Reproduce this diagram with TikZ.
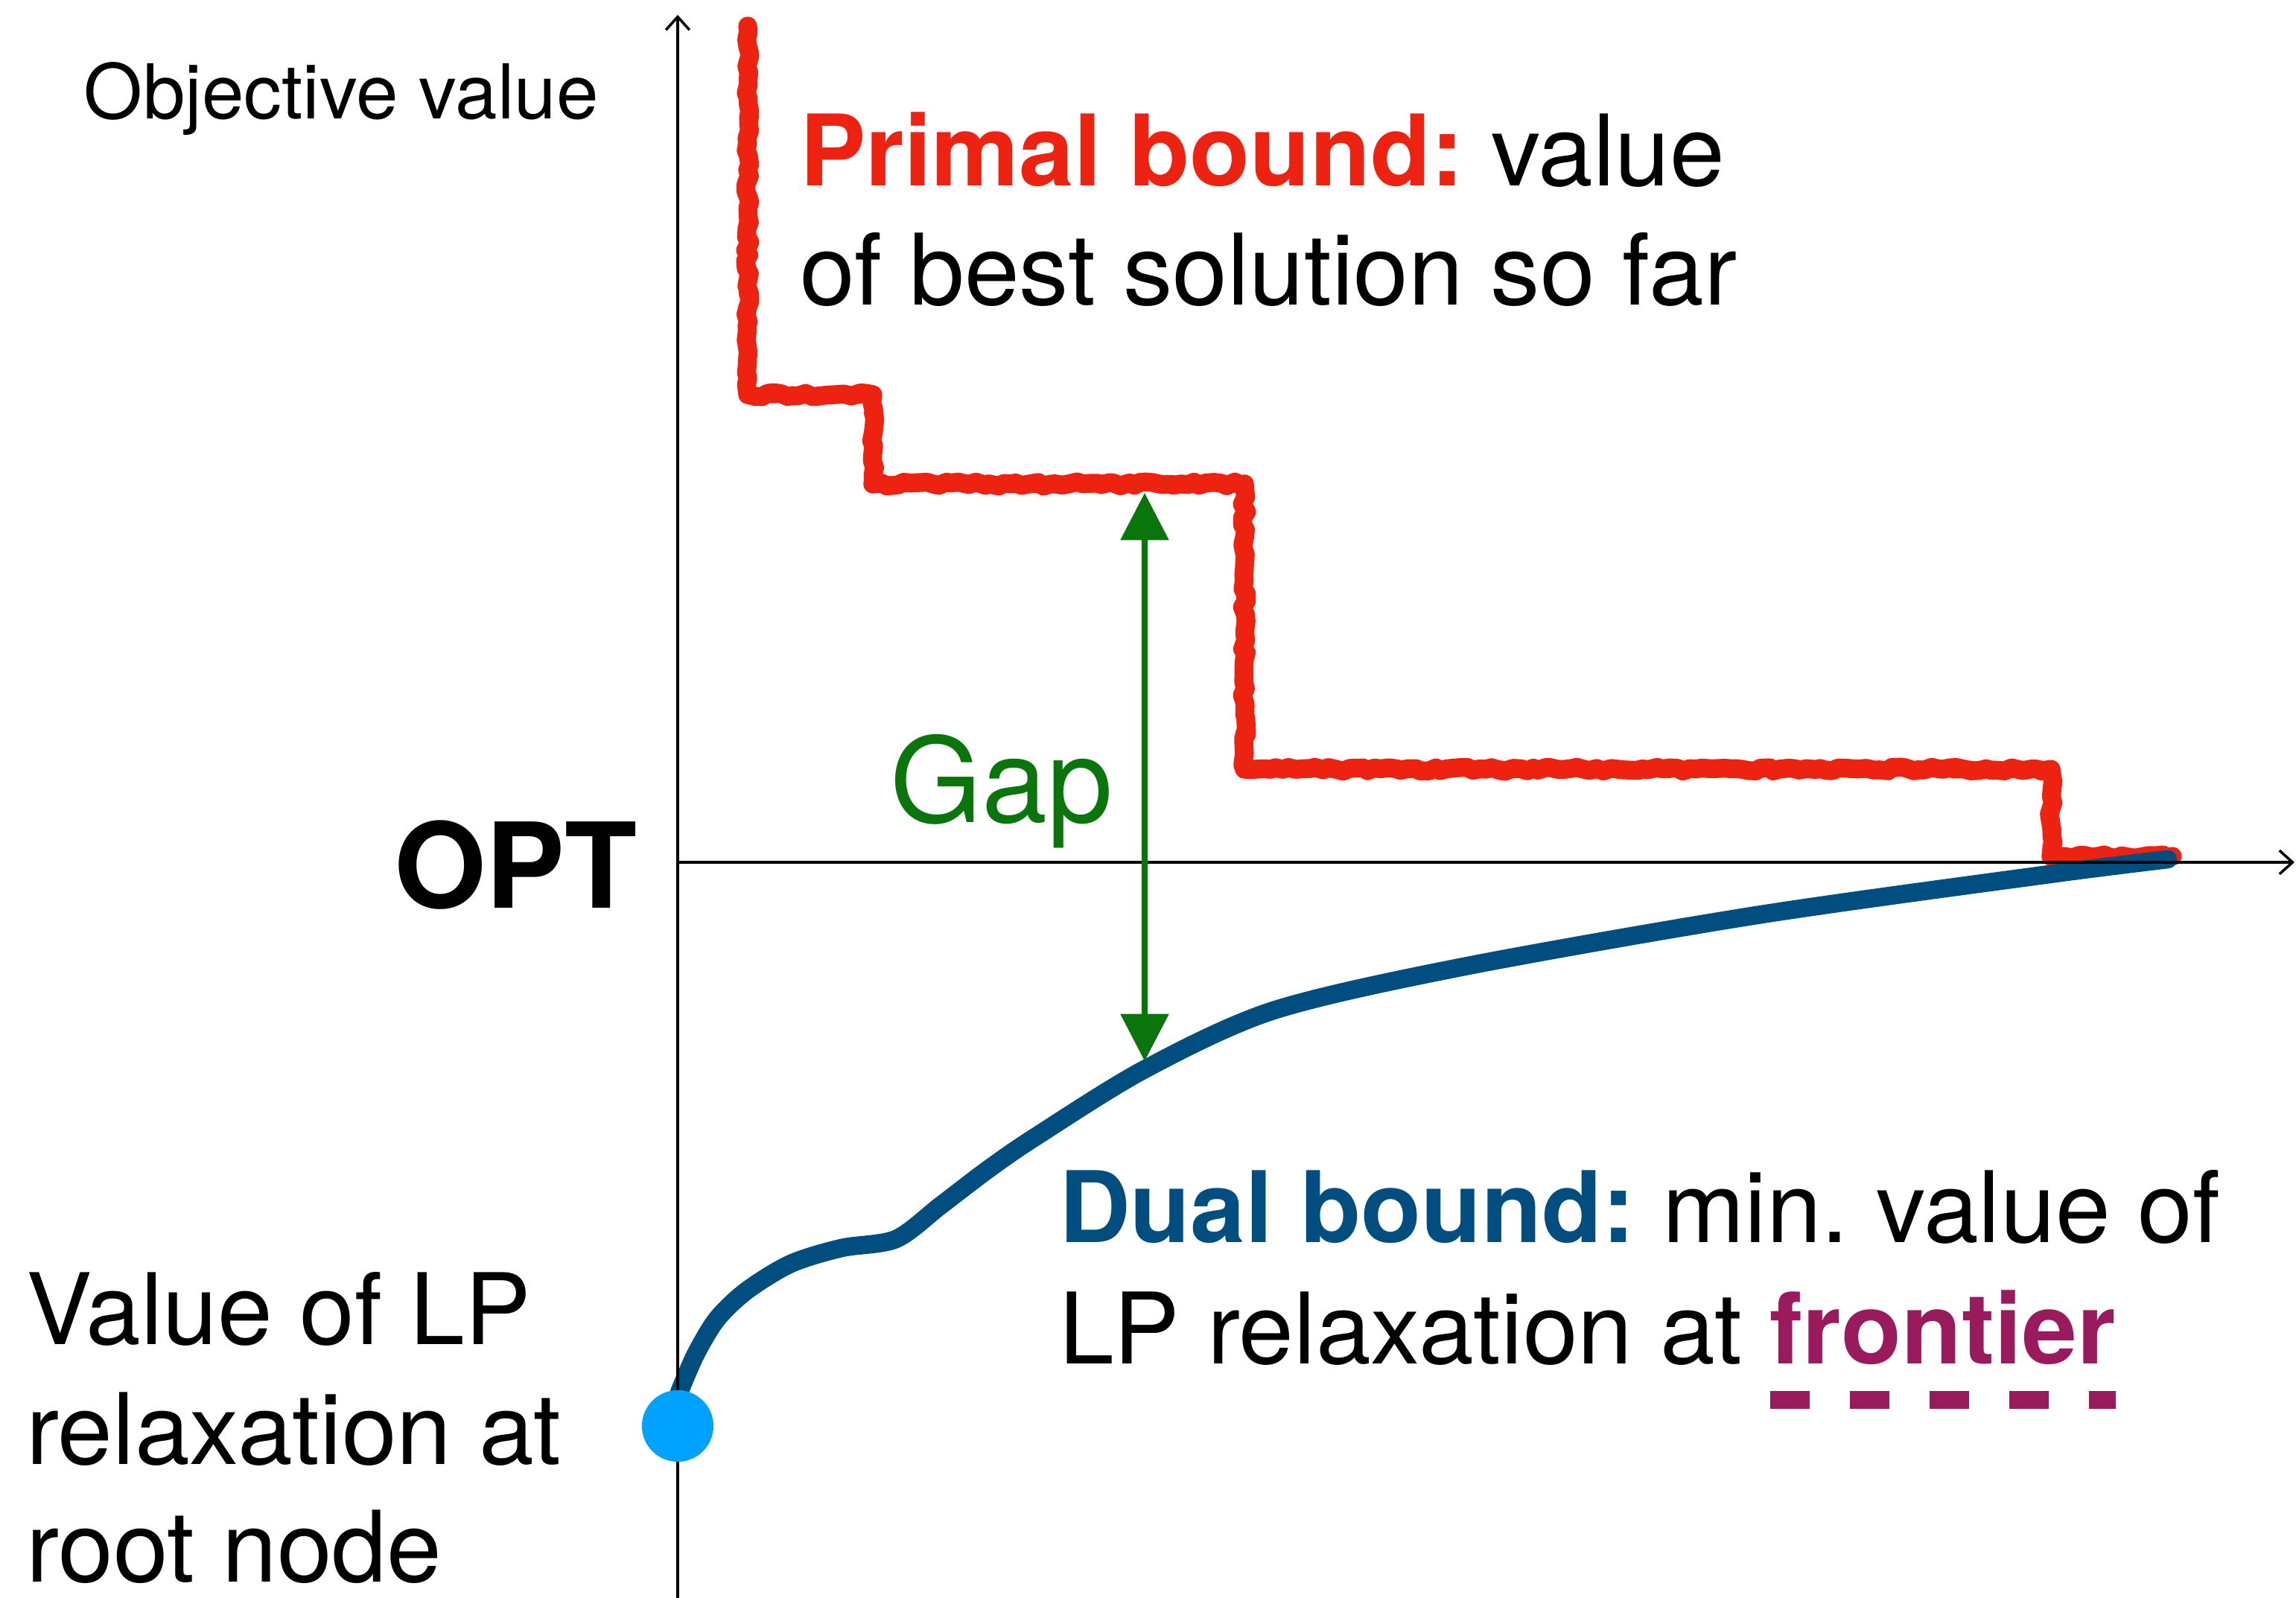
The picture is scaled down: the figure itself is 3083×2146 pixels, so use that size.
\documentclass[tikz,border=0pt]{standalone}
\usepackage{fontspec}
\setmainfont{TeX Gyre Heros}
\usetikzlibrary{arrows.meta,decorations.pathmorphing}
\definecolor{pred}{RGB}{238,34,17}
\definecolor{dblue}{RGB}{0,77,128}
\definecolor{ggreen}{RGB}{10,117,10}
\definecolor{dotblue}{RGB}{0,162,255}
\definecolor{fpurple}{RGB}{154,26,94}
\frenchspacing
\begin{document}
\begin{tikzpicture}[x=0.01cm,y=-0.01cm,
  axisline/.style={line width=1pt, -{Straight Barb[length=5pt,width=9pt,line width=1pt]}},
  sketch/.style={line width=7.2pt, line join=round, line cap=round, decorate,
    decoration={random steps, segment length=2.5pt, amplitude=0.8pt}},
  smoothline/.style={line width=7pt, line join=round, line cap=round},
  lbl/.style={anchor=base west, inner sep=0pt, outer sep=0pt},
  big/.style={font=\fontsize{37.7pt}{45pt}\selectfont},
  gaparrow/.style={line width=2.3pt, ggreen, {Triangle[length=18pt,width=18pt]}-{Triangle[length=18pt,width=18pt]}},
]
\useasboundingbox (0,0) rectangle (3083,2146);
\pgfmathsetseed{7}
% primal bound (red staircase)
\draw[sketch, pred] (1004,35) -- (1004,530) -- (1172,530) -- (1172,650) -- (1671,650)
  -- (1671,1033) -- (2754,1033) -- (2754,1150) -- (2917,1150);
\draw[sketch, pred, line width=5.5pt] (1004,35) -- (1004,530) -- (1172,530) -- (1172,650) -- (1671,650)
  -- (1671,1033) -- (2754,1033) -- (2754,1150) -- (2917,1150);
% dual bound (blue curve)
\draw[smoothline, dblue] plot[smooth, tension=0.5] coordinates {
  (912,1870) (934,1819) (963,1771) (1003,1733) (1062,1697) (1130,1676) (1203,1664)
  (1263,1619) (1326,1571) (1390,1527) (1537,1436) (1710,1357) (1966,1298)
  (2359,1229) (2752,1174) (2911,1154)};
% axes
\coordinate (ybot) at (910,2146);
\coordinate (ytop) at (910,20);
\coordinate (xleft) at (910,1158);
\coordinate (xright) at (3081,1158);
\draw[axisline] (ybot) -- (ytop);
\draw[axisline] (xleft) -- (xright);
% root LP value dot
\node[circle, fill=dotblue, minimum size=0.96cm, inner sep=0pt] (rootdot) at (910,1915) {};
% gap arrow
\coordinate (gaptop) at (1537,662);
\coordinate (gapbot) at (1537,1425);
\draw[gaparrow] (gaptop) -- (gapbot);
% labels
\node[lbl, font=\fontsize{28.9pt}{34pt}\selectfont] (objval) at (113,160) {Objective value};
\node[lbl, font=\fontsize{45.2pt}{54pt}\selectfont\bfseries] (opt) at (529,1220) {OPT};
\node[lbl, font=\fontsize{45pt}{54pt}\selectfont, text=ggreen] (gap) at (1195,1105) {Gap};
\node[lbl, big] (prim1) at (1074,250) {\textcolor{pred}{\bfseries Primal bound:} value};
\node[lbl, big] (prim2) at (1074,410) {of best solution so far};
\node[lbl, big] (dual1) at (1422,1668) {\textcolor{dblue}{\bfseries Dual bound:} min. value of};
\node[lbl, big] (dual2) at (1422,1831) {LP relaxation at \textcolor{fpurple}{\bfseries frontier}};
\node[lbl, big] (root1) at (35,1805) {Value of LP};
\node[lbl, big] (root2) at (35,1966) {relaxation at};
\node[lbl, big, text depth=0pt] (root3) at (35,2124) {root node};
% frontier dashes
\coordinate (fdl) at (2377,1880);
\coordinate (fdr) at (2841,1880);
\draw[fpurple, line width=7.1pt, dash pattern=on 15.1pt off 15.3pt] (fdl) -- (fdr);
\end{tikzpicture}
\end{document}
